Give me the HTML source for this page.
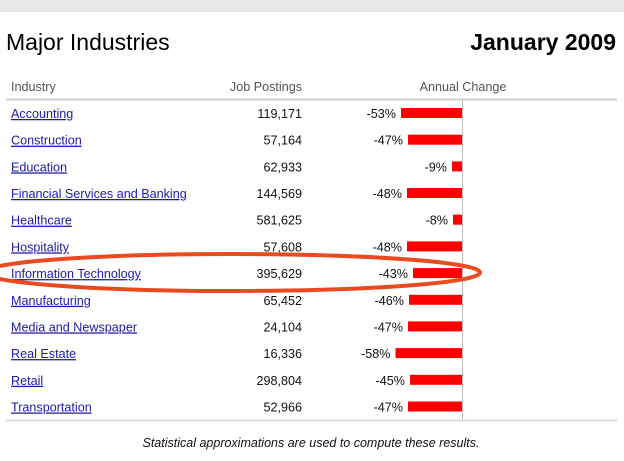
<!DOCTYPE html>
<html><head><meta charset="utf-8"><style>
html,body{margin:0;padding:0;background:#fff;}
svg{display:block;font-family:"Liberation Sans",Arial,sans-serif;}
.lnk{fill:#1c1ca6;text-decoration:underline;font-size:12.6px;}
.num{fill:#111;font-size:12.6px;text-anchor:end;}
.pct{fill:#111;font-size:12.6px;text-anchor:end;}
.hdr{fill:#555;font-size:12.6px;}
</style></head><body>
<svg width="624" height="461" viewBox="0 0 624 461" xmlns="http://www.w3.org/2000/svg">
<rect x="0" y="0" width="624" height="12" fill="#e8e8e8"/>
<text x="6" y="50" font-size="23" fill="#000">Major Industries</text>
<text x="616" y="50" font-size="23" font-weight="bold" fill="#000" text-anchor="end">January 2009</text>
<text class="hdr" x="11" y="91">Industry</text>
<text class="hdr" x="302" y="91" text-anchor="end">Job Postings</text>
<text class="hdr" x="463" y="91" text-anchor="middle">Annual Change</text>
<line x1="6" y1="99.5" x2="617" y2="99.5" stroke="#cfcfcf" stroke-width="2"/>
<line x1="462.5" y1="100" x2="462.5" y2="420" stroke="#bdbdbd" stroke-width="1"/>

<!-- rows -->
<g>
<text class="lnk" x="11" y="118">Accounting</text><text class="num" x="302" y="118">119,171</text>
<rect x="401" y="108" width="61" height="10" fill="#ff0000"/><text class="pct" x="396" y="118">-53%</text>

<text class="lnk" x="11" y="144.7">Construction</text><text class="num" x="302" y="144.7">57,164</text>
<rect x="408" y="134.7" width="54" height="10" fill="#ff0000"/><text class="pct" x="403" y="144.7">-47%</text>

<text class="lnk" x="11" y="171.4">Education</text><text class="num" x="302" y="171.4">62,933</text>
<rect x="452" y="161.4" width="10" height="10" fill="#ff0000"/><text class="pct" x="447" y="171.4">-9%</text>

<text class="lnk" x="11" y="198">Financial Services and Banking</text><text class="num" x="302" y="198">144,569</text>
<rect x="407" y="188" width="55" height="10" fill="#ff0000"/><text class="pct" x="402" y="198">-48%</text>

<text class="lnk" x="11" y="224.7">Healthcare</text><text class="num" x="302" y="224.7">581,625</text>
<rect x="453" y="214.7" width="9" height="10" fill="#ff0000"/><text class="pct" x="448" y="224.7">-8%</text>

<text class="lnk" x="11" y="251.4">Hospitality</text><text class="num" x="302" y="251.4">57,608</text>
<rect x="407" y="241.4" width="55" height="10" fill="#ff0000"/><text class="pct" x="402" y="251.4">-48%</text>

<text class="lnk" x="11" y="278.1">Information Technology</text><text class="num" x="302" y="278.1">395,629</text>
<rect x="413" y="268.1" width="49" height="10" fill="#ff0000"/><text class="pct" x="408" y="278.1">-43%</text>

<text class="lnk" x="11" y="304.8">Manufacturing</text><text class="num" x="302" y="304.8">65,452</text>
<rect x="409" y="294.8" width="53" height="10" fill="#ff0000"/><text class="pct" x="404" y="304.8">-46%</text>

<text class="lnk" x="11" y="331.4">Media and Newspaper</text><text class="num" x="302" y="331.4">24,104</text>
<rect x="408" y="321.4" width="54" height="10" fill="#ff0000"/><text class="pct" x="403" y="331.4">-47%</text>

<text class="lnk" x="11" y="358.1">Real Estate</text><text class="num" x="302" y="358.1">16,336</text>
<rect x="395.5" y="348.1" width="66.5" height="10" fill="#ff0000"/><text class="pct" x="390.5" y="358.1">-58%</text>

<text class="lnk" x="11" y="384.8">Retail</text><text class="num" x="302" y="384.8">298,804</text>
<rect x="410" y="374.8" width="52" height="10" fill="#ff0000"/><text class="pct" x="405" y="384.8">-45%</text>

<text class="lnk" x="11" y="411.5">Transportation</text><text class="num" x="302" y="411.5">52,966</text>
<rect x="408" y="401.5" width="54" height="10" fill="#ff0000"/><text class="pct" x="403" y="411.5">-47%</text>
</g>

<line x1="6" y1="420.5" x2="617" y2="420.5" stroke="#dcdcdc" stroke-width="2"/>
<text x="311" y="447" font-size="12.5" font-style="italic" fill="#111" text-anchor="middle">Statistical approximations are used to compute these results.</text>

<ellipse cx="232" cy="272.5" rx="248" ry="18.5" fill="none" stroke="#ea4a1e" stroke-width="4"/>
</svg>
</body></html>
